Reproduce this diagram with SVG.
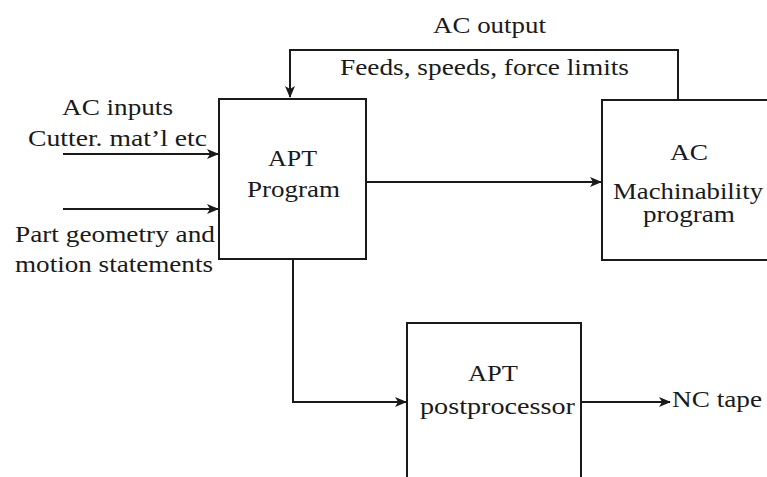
<svg xmlns="http://www.w3.org/2000/svg" width="767" height="477" viewBox="0 0 767 477">
<defs>
<marker id="ah" markerWidth="12" markerHeight="10" refX="11" refY="5" orient="auto" markerUnits="userSpaceOnUse">
<path d="M0,0 L12,5 L0,10 L3,5 Z" fill="#1a1a1a"/>
</marker>
<style>
.box{fill:#fff;stroke:#1a1a1a;stroke-width:2}
.ln{fill:none;stroke:#1a1a1a;stroke-width:2}
text{font-family:"Liberation Serif","Times New Roman",serif;font-size:23px;fill:#1a1a1a}
</style>
</defs>
<rect width="767" height="477" fill="#fff"/>
<g id="connectors">
<polyline class="ln" points="678,100 678,50 290,50 290,97" marker-end="url(#ah)"/>
<line class="ln" x1="366" y1="182" x2="601" y2="182" marker-end="url(#ah)"/>
<line class="ln" x1="63" y1="154" x2="218" y2="154" marker-end="url(#ah)"/>
<line class="ln" x1="63" y1="209" x2="218" y2="209" marker-end="url(#ah)"/>
<polyline class="ln" points="293,259 293,402 406,402" marker-end="url(#ah)"/>
<line class="ln" x1="581" y1="402" x2="670" y2="402" marker-end="url(#ah)"/>
</g>
<g id="labels">
<text x="433" y="33" textLength="113" lengthAdjust="spacingAndGlyphs">AC output</text>
<text x="340" y="75" textLength="289" lengthAdjust="spacingAndGlyphs">Feeds, speeds, force limits</text>
<text x="62" y="115" textLength="111" lengthAdjust="spacingAndGlyphs">AC inputs</text>
<text x="28" y="146" textLength="179" lengthAdjust="spacingAndGlyphs">Cutter. mat’l etc</text>
<text x="15" y="242" textLength="200" lengthAdjust="spacingAndGlyphs">Part geometry and</text>
<text x="15" y="272" textLength="198" lengthAdjust="spacingAndGlyphs">motion statements</text>
<text x="672" y="407" textLength="90" lengthAdjust="spacingAndGlyphs">NC tape</text>
</g>
<g id="apt-program">
<rect class="box" x="219" y="99" width="147" height="160"/>
<text x="268" y="166" textLength="49" lengthAdjust="spacingAndGlyphs">APT</text>
<text x="247" y="197" textLength="93" lengthAdjust="spacingAndGlyphs">Program</text>
</g>
<g id="ac-machinability">
<rect class="box" x="602" y="100" width="190" height="160"/>
<text x="670" y="160" textLength="38" lengthAdjust="spacingAndGlyphs">AC</text>
<text x="613" y="199" textLength="150" lengthAdjust="spacingAndGlyphs">Machinability</text>
<text x="643" y="222" textLength="92" lengthAdjust="spacingAndGlyphs">program</text>
</g>
<g id="apt-postprocessor">
<rect class="box" x="407" y="323" width="174" height="180"/>
<text x="468" y="381" textLength="50" lengthAdjust="spacingAndGlyphs">APT</text>
<text x="420" y="414" textLength="155" lengthAdjust="spacingAndGlyphs">postprocessor</text>
</g>
</svg>
